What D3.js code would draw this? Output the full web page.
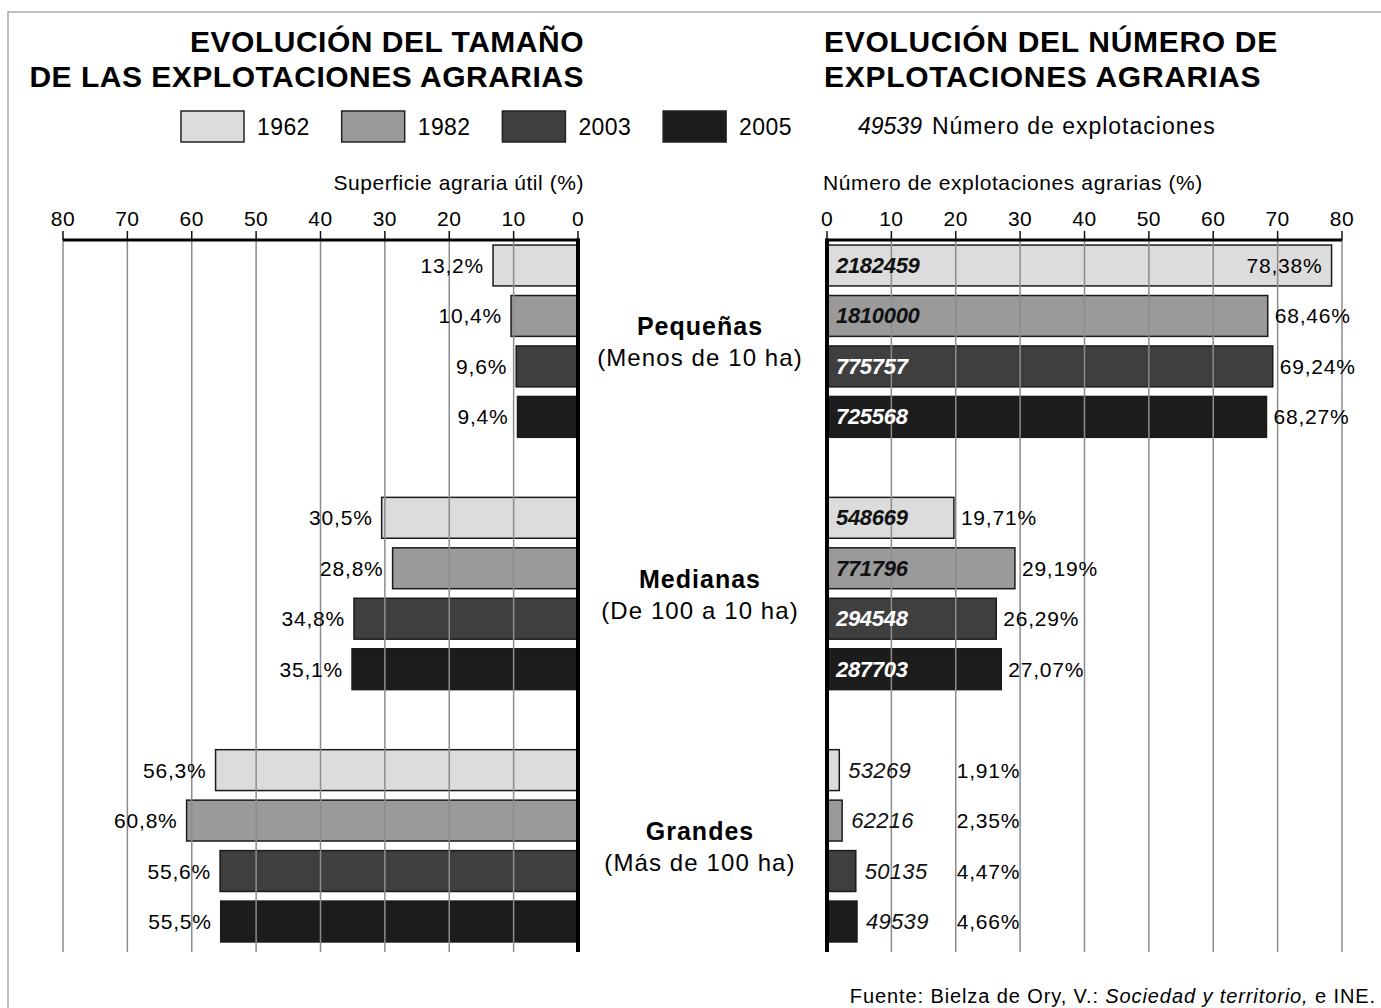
<!DOCTYPE html>
<html lang="es">
<head>
  <meta charset="UTF-8">
  <title>Evolución de las explotaciones agrarias</title>
  <style>
    body { margin: 0; padding: 0; background: #fff; }
    svg { display: block; font-family: "Liberation Sans", Arial, sans-serif; }
  </style>
</head>
<body>
  <div id="chart"></div>

  <script src="https://d3js.org/d3.v7.min.js"></script>
  <script>
    // data
    const years = ["1962", "1982", "2003", "2005"];
    const sizeNames = ["Pequeñas", "Medianas", "Grandes"];
    const sizeNotes = ["(Menos de 10 ha)", "(De 100 a 10 ha)", "(Más de 100 ha)"];

    // Superficie agraria útil (%) by size, one value per year
    const supPequenas = [13.2, 10.4, 9.6, 9.4];
    const supMedianas = [30.5, 28.8, 34.8, 35.1];
    const supGrandes  = [56.3, 60.8, 55.6, 55.5];

    // Número de explotaciones agrarias (%) by size
    const pctPequenas = [78.38, 68.46, 69.24, 68.27];
    const pctMedianas = [19.71, 29.19, 26.29, 27.07];
    const pctGrandes  = [1.91, 2.35, 4.47, 4.66];

    // Número de explotaciones by size
    const numPequenas = [2182459, 1810000, 775757, 725568];
    const numMedianas = [548669, 771796, 294548, 287703];
    const numGrandes  = [53269, 62216, 50135, 49539];

    const ticks = [0, 10, 20, 30, 40, 50, 60, 70, 80];

    const supBySize = [supPequenas, supMedianas, supGrandes];
    const pctBySize = [pctPequenas, pctMedianas, pctGrandes];
    const numBySize = [numPequenas, numMedianas, numGrandes];

    const yearColor = d3.scaleOrdinal()
      .domain(years)
      .range(["#dcdcdc", "#9a9a9a", "#3f3f3f", "#1c1c1c"]);
    const numColor = d3.scaleOrdinal()
      .domain(years)
      .range(["#111", "#111", "#fff", "#fff"]);

    const width = 1381, height = 1008;
    const svg = d3.select("#chart").append("svg")
      .attr("width", width)
      .attr("height", height);

    // page frame
    svg.append("path")
      .attr("d", `M8,${height} V12 H${width}`)
      .attr("fill", "none")
      .attr("stroke", "#aaa")
      .attr("stroke-width", 1.5);

    // rows: 4 bars per size group, one empty slot between groups
    const rows = [];
    const slots = [];
    sizeNames.forEach((s, g) => {
      years.forEach((yr, i) => {
        const id = g + "-" + i;
        slots.push(id);
        rows.push({
          id, g, year: yr,
          sup: supBySize[g][i],
          pct: pctBySize[g][i],
          num: numBySize[g][i]
        });
      });
      if (g < sizeNames.length - 1) slots.push("gap" + g);
    });

    const axisY = 240, axisBottom = 952;
    const y = d3.scaleBand()
      .domain(slots)
      .range([axisY, 947])
      .paddingInner(0.19)
      .paddingOuter(0.1);

    const xL = d3.scaleLinear().domain([0, 80]).range([578, 63]);
    const xR = d3.scaleLinear().domain([0, 80]).range([827, 1342]);

    const fmt1 = d => d3.format(".1f")(d).replace(".", ",") + "%";
    const fmt2 = d => d3.format(".2f")(d).replace(".", ",") + "%";

    // titles
    const titleL = ["EVOLUCIÓN DEL TAMAÑO", "DE LAS EXPLOTACIONES AGRARIAS"];
    const titleR = ["EVOLUCIÓN DEL NÚMERO DE", "EXPLOTACIONES AGRARIAS"];
    svg.selectAll(".titleL").data(titleL).enter().append("text")
      .attr("x", 584).attr("y", (d, i) => 52 + i * 35)
      .attr("text-anchor", "end")
      .style("font-size", "30px").style("font-weight", "bold")
      .style("letter-spacing", "0.5px")
      .text(d => d);
    svg.selectAll(".titleR").data(titleR).enter().append("text")
      .attr("x", 824).attr("y", (d, i) => 52 + i * 35)
      .style("font-size", "30px").style("font-weight", "bold")
      .style("letter-spacing", "0.7px")
      .text(d => d);

    // legend
    const legend = svg.selectAll(".legend").data(years).enter().append("g")
      .attr("transform", (d, i) => `translate(${181 + i * 160.7},111)`);
    legend.append("rect")
      .attr("width", 63).attr("height", 31)
      .attr("fill", d => yearColor(d))
      .attr("stroke", "#222").attr("stroke-width", 1.5);
    legend.append("text")
      .attr("x", 76).attr("y", 24)
      .style("font-size", "23px").style("letter-spacing", "0.4px")
      .text(d => d);

    const legNum = svg.append("text").attr("x", 858).attr("y", 134).style("font-size", "23px");
    legNum.append("tspan").style("font-style", "italic")
      .text(d3.format("d")(numGrandes[3]));
    legNum.append("tspan").attr("dx", 10).style("letter-spacing", "1px")
      .text("Número de explotaciones");

    // axis titles
    svg.append("text").attr("x", 584).attr("y", 190)
      .attr("text-anchor", "end").style("font-size", "21px")
      .style("letter-spacing", "0.55px")
      .text("Superficie agraria útil (%)");
    svg.append("text").attr("x", 823).attr("y", 190)
      .style("font-size", "21px").style("letter-spacing", "0.6px")
      .text("Número de explotaciones agrarias (%)");

    // ---- left panel: bars
    svg.selectAll(".barL").data(rows).enter().append("rect")
      .attr("x", d => xL(d.sup))
      .attr("y", d => y(d.id))
      .attr("width", d => xL(0) - xL(d.sup))
      .attr("height", y.bandwidth())
      .attr("fill", d => yearColor(d.year))
      .attr("stroke", "#1a1a1a").attr("stroke-width", 1.5);

    // ---- right panel: bars
    svg.selectAll(".barR").data(rows).enter().append("rect")
      .attr("x", xR(0))
      .attr("y", d => y(d.id))
      .attr("width", d => xR(d.pct) - xR(0))
      .attr("height", y.bandwidth())
      .attr("fill", d => yearColor(d.year))
      .attr("stroke", "#1a1a1a").attr("stroke-width", 1.5);

    // gridlines over the bars, ticks above the axis
    [xL, xR].forEach(x => {
      svg.selectAll(null).data(ticks.slice(1)).enter().append("line")
        .attr("x1", d => x(d)).attr("x2", d => x(d))
        .attr("y1", axisY).attr("y2", axisBottom)
        .attr("stroke", "#8c8c8c").attr("stroke-width", 1.5);
      svg.selectAll(null).data(ticks).enter().append("line")
        .attr("x1", d => x(d)).attr("x2", d => x(d))
        .attr("y1", axisY - 9).attr("y2", axisY)
        .attr("stroke", "#111").attr("stroke-width", 1.5);
      svg.selectAll(null).data(ticks).enter().append("text")
        .attr("x", d => x(d)).attr("y", 226)
        .attr("text-anchor", "middle")
        .style("font-size", "21px").style("letter-spacing", "0.5px")
        .text(d => d);
      svg.append("line")
        .attr("x1", x(80)).attr("x2", x(0))
        .attr("y1", axisY).attr("y2", axisY)
        .attr("stroke", "#000").attr("stroke-width", 3);
      svg.append("line")
        .attr("x1", x(0)).attr("x2", x(0))
        .attr("y1", axisY - 1.5).attr("y2", axisBottom)
        .attr("stroke", "#000").attr("stroke-width", 4);
    });

    const labelY = d => y(d.id) + y.bandwidth() / 2 + 7.5;

    // left value labels
    svg.selectAll(".labL").data(rows).enter().append("text")
      .attr("x", d => xL(d.sup) - 9)
      .attr("y", labelY)
      .attr("text-anchor", "end")
      .style("font-size", "21px").style("letter-spacing", "0.8px")
      .text(d => fmt1(d.sup));

    // right number labels
    svg.selectAll(".numR").data(rows).enter().append("text")
      .attr("x", d => d.pct < 10 ? xR(d.pct) + 9 : xR(0) + 9)
      .attr("y", labelY)
      .style("font-size", "22px")
      .style("font-style", "italic")
      .style("font-weight", d => d.pct < 10 ? "normal" : "bold")
      .style("letter-spacing", d => d.pct < 10 ? "0.3px" : "-0.3px")
      .attr("fill", d => d.pct < 10 ? "#111" : numColor(d.year))
      .text(d => d3.format("d")(d.num));

    // right percent labels
    svg.selectAll(".pctR").data(rows).enter().append("text")
      .attr("x", d => d.pct > 75 ? xR(d.pct) - 9 : (d.pct < 10 ? xR(20) + 1 : xR(d.pct) + 7))
      .attr("y", labelY)
      .attr("text-anchor", d => d.pct > 75 ? "end" : "start")
      .style("font-size", "21px").style("letter-spacing", "0.8px")
      .text(d => fmt2(d.pct));

    // size group labels between the panels
    sizeNames.forEach((s, g) => {
      const yc = (y(g + "-0") + y(g + "-3") + y.bandwidth()) / 2;
      svg.append("text")
        .attr("x", 700).attr("y", yc - 6)
        .attr("text-anchor", "middle")
        .style("font-size", "25px").style("font-weight", "bold")
        .style("letter-spacing", "1px")
        .text(s);
      svg.append("text")
        .attr("x", 700).attr("y", yc + 25)
        .attr("text-anchor", "middle")
        .style("font-size", "24px").style("letter-spacing", "1.1px")
        .text(sizeNotes[g]);
    });

    // source
    const src = svg.append("text").attr("x", 1376).attr("y", 1003)
      .attr("text-anchor", "end").style("font-size", "20px")
      .style("letter-spacing", "0.9px");
    src.append("tspan").text("Fuente: Bielza de Ory, V.: ");
    src.append("tspan").style("font-style", "italic").text("Sociedad y territorio,");
    src.append("tspan").text(" e INE.");
  </script>
</body>
</html>
